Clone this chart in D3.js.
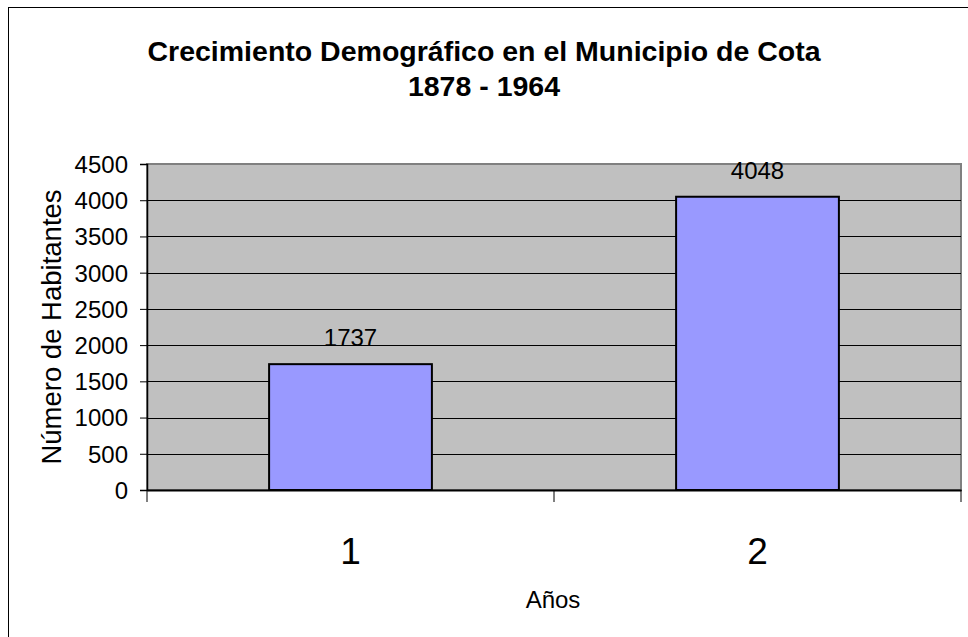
<!DOCTYPE html>
<html>
<head>
<meta charset="utf-8">
<script src="https://cdn.jsdelivr.net/npm/d3@7"></script>
<style>
  body { margin: 0; background: #fff; }
  text { font-family: Arial, "Liberation Sans", sans-serif; fill: #000; }
</style>
</head>
<body>
<script>
// data
var categories = ["1", "2"];
var values = [1737, 4048];
var yTicks = [0, 500, 1000, 1500, 2000, 2500, 3000, 3500, 4000, 4500];
var titleLines = ["Crecimiento Demográfico en el Municipio de Cota", "1878 - 1964"];

var w = 968, h = 637;
var plot = {left: 147, top: 164, right: 961, bottom: 490};

var svg = d3.select("body").append("svg")
    .attr("width", w)
    .attr("height", h);

// outer chart frame
svg.append("rect")
    .attr("x", 8.5).attr("y", 7.5)
    .attr("width", 980).attr("height", 650)
    .attr("fill", "#fff")
    .attr("stroke", "#000")
    .attr("stroke-width", 1);

var x = d3.scaleBand()
    .domain(categories)
    .range([plot.left, plot.right])
    .paddingInner(0.6)
    .paddingOuter(0.3);

var y = d3.scaleLinear()
    .domain([0, 4500])
    .range([plot.bottom, plot.top]);

// plot background
svg.append("rect")
    .attr("x", plot.left).attr("y", plot.top)
    .attr("width", plot.right - plot.left)
    .attr("height", plot.bottom - plot.top)
    .attr("fill", "#c0c0c0")
    .attr("stroke", "#808080")
    .attr("stroke-width", 2);

// gridlines
svg.selectAll("line.grid")
    .data(yTicks.filter(function(d) { return d > 0 && d < 4500; }))
    .enter().append("line")
    .attr("class", "grid")
    .attr("x1", plot.left).attr("x2", plot.right)
    .attr("y1", function(d) { return Math.round(y(d)) + 0.5; })
    .attr("y2", function(d) { return Math.round(y(d)) + 0.5; })
    .attr("stroke", "#000")
    .attr("stroke-width", 1);

// bars
svg.selectAll("rect.bar")
    .data(values)
    .enter().append("rect")
    .attr("class", "bar")
    .attr("x", function(d, i) { return x(categories[i]); })
    .attr("y", function(d) { return y(d); })
    .attr("width", x.bandwidth())
    .attr("height", function(d) { return y(0) - y(d); })
    .attr("fill", "#9999ff")
    .attr("stroke", "#000")
    .attr("stroke-width", 2);

// value labels
svg.selectAll("text.val")
    .data(values)
    .enter().append("text")
    .attr("class", "val")
    .attr("x", function(d, i) { return x(categories[i]) + x.bandwidth() / 2; })
    .attr("y", function(d) { return y(d) - 18; })
    .attr("text-anchor", "middle")
    .style("font-size", "24px")
    .text(function(d) { return d; });

// y axis
var yAxis = svg.append("g")
    .attr("transform", "translate(" + plot.left + ",0)")
    .call(d3.axisLeft(y).tickValues(yTicks).tickFormat(d3.format("d")).tickSize(7).tickPadding(12));
yAxis.select(".domain").attr("stroke", "#000").attr("stroke-width", 1.5);
yAxis.selectAll(".tick line").attr("stroke", "#000");
yAxis.selectAll(".tick text")
    .style("font-size", "24px")
    .style("font-family", "Arial, 'Liberation Sans', sans-serif")
    .attr("dy", "0.35em");

// x axis
var xAxis = svg.append("g")
    .attr("transform", "translate(0," + plot.bottom + ")")
    .call(d3.axisBottom(x).tickSize(0).tickPadding(48));
xAxis.select(".domain").attr("stroke", "#000").attr("stroke-width", 2);
xAxis.selectAll(".tick text")
    .style("font-size", "37px")
    .style("font-family", "Arial, 'Liberation Sans', sans-serif");

// category divider ticks below the axis
var dividers = [plot.left, (plot.left + plot.right) / 2, plot.right];
svg.selectAll("line.div")
    .data(dividers)
    .enter().append("line")
    .attr("class", "div")
    .attr("x1", function(d) { return d; }).attr("x2", function(d) { return d; })
    .attr("y1", plot.bottom).attr("y2", plot.bottom + 12)
    .attr("stroke", "#000");

// title
svg.selectAll("text.title")
    .data(titleLines)
    .enter().append("text")
    .attr("class", "title")
    .attr("x", 484)
    .attr("y", function(d, i) { return 61 + i * 35; })
    .attr("text-anchor", "middle")
    .style("font-size", "28.5px")
    .style("font-weight", "bold")
    .text(function(d) { return d; });

// axis titles
svg.append("text")
    .attr("x", 553).attr("y", 608)
    .attr("text-anchor", "middle")
    .style("font-size", "24px")
    .text("Años");

svg.append("text")
    .attr("transform", "translate(61," + ((plot.top + plot.bottom) / 2) + ") rotate(-90)")
    .attr("text-anchor", "middle")
    .style("font-size", "27.5px")
    .text("Número de Habitantes");
</script>
</body>
</html>
